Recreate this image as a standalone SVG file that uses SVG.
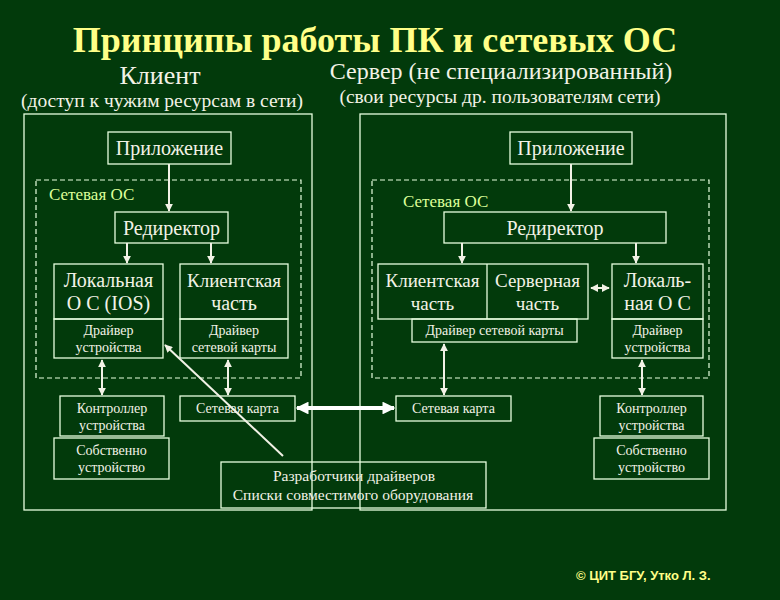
<svg xmlns="http://www.w3.org/2000/svg" width="780" height="600" viewBox="0 0 780 600">
<defs>
<style>
text{font-family:'Liberation Serif','DejaVu Serif','Noto Serif',serif;fill:#f2f2e6}
.t{font-size:36px;font-weight:bold;fill:#ffff88}
.h{font-size:26px}
.h2{font-size:24px}
.s{font-size:19.5px}
.m{font-size:20px}
.m2{font-size:19px}
.sm{font-size:14px}
.os{font-size:17px;fill:#ddff99}
.c{text-anchor:middle}
.box{fill:none;stroke:#e8ffe0;stroke-width:1.3}
.dash{fill:none;stroke:#e8ffe0;stroke-width:1.2;stroke-dasharray:5,3}
.ar{stroke:#f2f2e6;stroke-width:2;fill:none}
.cp{font-family:'Liberation Sans',Arial,sans-serif;font-size:13px;font-weight:bold;fill:#ffff88}
</style>
<marker id="ah" viewBox="0 0 10 10" refX="9" refY="5" markerWidth="4" markerHeight="4" orient="auto-start-reverse"><path d="M0,0L10,5L0,10z" fill="#f2f2e6"/></marker>
<marker id="ah2" viewBox="0 0 10 10" refX="9" refY="5" markerWidth="3.2" markerHeight="3.2" orient="auto-start-reverse"><path d="M0,0L10,5L0,10z" fill="#ffffff"/></marker>
</defs>
<rect width="780" height="600" fill="#023a0b"/>
<text class="t c" x="375" y="52">Принципы работы ПК и сетевых ОС</text>
<text class="h c" x="160" y="84">Клиент</text>
<text class="s c" x="162" y="107">(доступ к чужим ресурсам в сети)</text>
<text class="h2 c" x="501" y="79">Сервер (не специализированный)</text>
<text class="s c" x="500" y="103">(свои ресурсы др. пользователям сети)</text>

<g id="client-frame"><rect class="box" x="24" y="114" width="288" height="396"/></g>
<g id="server-frame"><rect class="box" x="360" y="114" width="366" height="396"/></g>

<g id="client-app"><rect class="box" x="108" y="132" width="123" height="32"/><text class="m c" x="169.5" y="155">Приложение</text></g>
<g id="server-app"><rect class="box" x="510" y="132" width="122" height="32"/><text class="m c" x="571" y="155">Приложение</text></g>

<g id="client-os"><rect class="dash" x="36" y="180" width="265" height="198"/><text class="os" x="49" y="200">Сетевая ОС</text></g>
<g id="server-os"><rect class="dash" x="372" y="180" width="337" height="198"/><text class="os" x="403" y="207">Сетевая ОС</text></g>

<g id="client-redir"><rect class="box" x="115" y="212" width="113" height="31"/><text class="m c" x="171.5" y="235">Редиректор</text></g>
<g id="server-redir"><rect class="box" x="444" y="212" width="222" height="31"/><text class="m c" x="555" y="235">Редиректор</text></g>

<g id="client-local"><rect class="box" x="54" y="264" width="109" height="55"/><text class="m c" x="108.5" y="287">Локальная</text><text class="m c" x="108.5" y="310">О С (IOS)</text></g>
<g id="client-local-drv"><rect class="box" x="54" y="319" width="109" height="39"/><text class="sm c" x="108.5" y="335">Драйвер</text><text class="sm c" x="108.5" y="352">устройства</text></g>
<g id="client-part"><rect class="box" x="180" y="264" width="108" height="55"/><text class="m2 c" x="234" y="287">Клиентская</text><text class="m c" x="234" y="310">часть</text></g>
<g id="client-net-drv"><rect class="box" x="180" y="319" width="108" height="39"/><text class="sm c" x="234" y="335">Драйвер</text><text class="sm c" x="234" y="352">сетевой карты</text></g>

<g id="server-parts"><rect class="box" x="378" y="264" width="210" height="55"/><line class="box" x1="487" y1="264" x2="487" y2="319"/><text class="m2 c" x="432.5" y="287">Клиентская</text><text class="m2 c" x="432.5" y="310">часть</text><text class="m2 c" x="537.5" y="287">Серверная</text><text class="m2 c" x="537.5" y="310">часть</text></g>
<g id="server-net-drv"><rect class="box" x="412" y="319" width="165" height="23"/><text class="sm c" x="494.5" y="335">Драйвер сетевой карты</text></g>
<g id="server-local"><rect class="box" x="612" y="264" width="91" height="55"/><text class="m c" x="657.5" y="287">Локаль-</text><text class="m c" x="657.5" y="310">ная О С</text></g>
<g id="server-local-drv"><rect class="box" x="612" y="319" width="91" height="39"/><text class="sm c" x="657.5" y="335">Драйвер</text><text class="sm c" x="657.5" y="352">устройства</text></g>

<g id="client-ctrl"><rect class="box" x="60" y="396" width="104" height="40"/><text class="sm c" x="112" y="413">Контроллер</text><text class="sm c" x="112" y="430">устройства</text></g>
<g id="client-dev"><rect class="box" x="54" y="438" width="115" height="41"/><text class="sm c" x="111.5" y="455">Собственно</text><text class="sm c" x="111.5" y="472">устройство</text></g>
<g id="client-card"><rect class="box" x="180" y="396" width="115" height="25"/><text class="sm c" x="237.5" y="413">Сетевая карта</text></g>
<g id="server-card"><rect class="box" x="396" y="396" width="115" height="25"/><text class="sm c" x="453.5" y="413">Сетевая карта</text></g>
<g id="server-ctrl"><rect class="box" x="600" y="396" width="103" height="40"/><text class="sm c" x="651.5" y="413">Контроллер</text><text class="sm c" x="651.5" y="430">устройства</text></g>
<g id="server-dev"><rect class="box" x="594" y="438" width="115" height="41"/><text class="sm c" x="651.5" y="455">Собственно</text><text class="sm c" x="651.5" y="472">устройство</text></g>

<g id="devs"><rect class="box" x="221" y="462" width="265" height="46"/><text class="c" style="font-size:15.5px" x="354" y="481">Разработчики драйверов</text><text class="c" style="font-size:15.5px" x="353" y="500">Списки совместимого оборудования</text></g>

<g id="connectors">
<line class="ar" x1="169" y1="164" x2="169" y2="211" marker-end="url(#ah)"/>
<line class="ar" x1="571" y1="164" x2="571" y2="211" marker-end="url(#ah)"/>
<line class="ar" x1="127" y1="243" x2="127" y2="263" marker-end="url(#ah)"/>
<line class="ar" x1="211" y1="243" x2="211" y2="263" marker-end="url(#ah)"/>
<line class="ar" x1="462" y1="243" x2="462" y2="263" marker-end="url(#ah)"/>
<line class="ar" x1="636" y1="243" x2="636" y2="263" marker-end="url(#ah)"/>
<line class="ar" x1="591" y1="288" x2="609" y2="288" marker-start="url(#ah)" marker-end="url(#ah)"/>
<line class="ar" x1="102" y1="360" x2="102" y2="395" marker-start="url(#ah)" marker-end="url(#ah)"/>
<line class="ar" x1="228" y1="360" x2="228" y2="395" marker-start="url(#ah)" marker-end="url(#ah)"/>
<line class="ar" x1="444" y1="344" x2="444" y2="395" marker-start="url(#ah)" marker-end="url(#ah)"/>
<line class="ar" x1="642" y1="360" x2="642" y2="395" marker-start="url(#ah)" marker-end="url(#ah)"/>
<line class="ar" x1="283" y1="456" x2="165" y2="345" marker-end="url(#ah)"/>
<line x1="297" y1="408" x2="394" y2="408" stroke="#ffffff" stroke-width="4" marker-start="url(#ah2)" marker-end="url(#ah2)"/>
</g>
<text class="cp" x="576" y="580">©  ЦИТ БГУ, Утко Л. З.</text>
</svg>
